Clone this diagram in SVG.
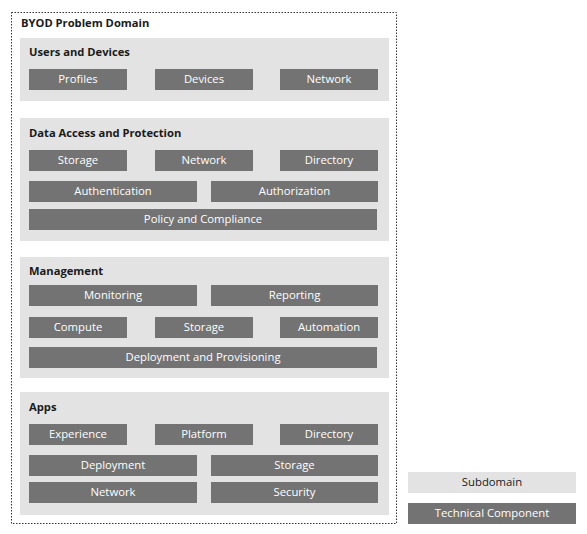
<svg xmlns="http://www.w3.org/2000/svg" width="587" height="534" viewBox="0 0 587 534">
<style>
.bg{fill:#ffffff}
.outer{fill:none;stroke:#333333;stroke-width:1;stroke-dasharray:1.5 1.5}
.sub{fill:#e3e3e3}
.comp{fill:#737373}
.t{font-family:"Open Sans","Noto Sans","DejaVu Sans",sans-serif;font-size:11.3px;fill:#ffffff;text-anchor:middle}
.ts{font-family:"Open Sans","Noto Sans","DejaVu Sans",sans-serif;font-size:11.3px;fill:#1a1a1a;text-anchor:middle}
.h{font-family:"Open Sans","Noto Sans","DejaVu Sans",sans-serif;font-size:11.2px;font-weight:bold;fill:#1a1a1a}
</style>
<rect class="bg" x="0" y="0" width="587" height="534"/>
<g id="byod-domain">
<rect class="outer" x="11.5" y="12.5" width="385" height="511"/>
<text class="h" x="21" y="27">BYOD Problem Domain</text>
</g>
<g id="users-and-devices">
<rect class="sub" x="20" y="38" width="369" height="63"/>
<text class="h" x="29" y="56">Users and Devices</text>
<rect class="comp" x="29" y="69" width="98" height="21"/><text class="t" x="78" y="82.7">Profiles</text>
<rect class="comp" x="155" y="69" width="98" height="21"/><text class="t" x="204" y="82.7">Devices</text>
<rect class="comp" x="280" y="69" width="98" height="21"/><text class="t" x="329" y="82.7">Network</text>
</g>
<g id="data-access">
<rect class="sub" x="20" y="118" width="369" height="123"/>
<text class="h" x="29" y="137">Data Access and Protection</text>
<rect class="comp" x="29" y="150" width="98" height="21"/><text class="t" x="78" y="163.7">Storage</text>
<rect class="comp" x="155" y="150" width="98" height="21"/><text class="t" x="204" y="163.7">Network</text>
<rect class="comp" x="280" y="150" width="98" height="21"/><text class="t" x="329" y="163.7">Directory</text>
<rect class="comp" x="29" y="181" width="168" height="21"/><text class="t" x="113" y="194.7">Authentication</text>
<rect class="comp" x="211" y="181" width="167" height="21"/><text class="t" x="294.5" y="194.7">Authorization</text>
<rect class="comp" x="29" y="209" width="348" height="21"/><text class="t" x="203" y="222.7">Policy and Compliance</text>
</g>
<g id="management">
<rect class="sub" x="20" y="257" width="369" height="121"/>
<text class="h" x="29" y="275">Management</text>
<rect class="comp" x="29" y="285" width="168" height="21"/><text class="t" x="113" y="298.7">Monitoring</text>
<rect class="comp" x="211" y="285" width="167" height="21"/><text class="t" x="294.5" y="298.7">Reporting</text>
<rect class="comp" x="29" y="317" width="98" height="21"/><text class="t" x="78" y="330.7">Compute</text>
<rect class="comp" x="155" y="317" width="98" height="21"/><text class="t" x="204" y="330.7">Storage</text>
<rect class="comp" x="280" y="317" width="98" height="21"/><text class="t" x="329" y="330.7">Automation</text>
<rect class="comp" x="29" y="347" width="348" height="21"/><text class="t" x="203" y="360.7">Deployment and Provisioning</text>
</g>
<g id="apps">
<rect class="sub" x="20" y="392" width="369" height="123"/>
<text class="h" x="29" y="411">Apps</text>
<rect class="comp" x="29" y="424" width="98" height="21"/><text class="t" x="78" y="437.7">Experience</text>
<rect class="comp" x="155" y="424" width="98" height="21"/><text class="t" x="204" y="437.7">Platform</text>
<rect class="comp" x="280" y="424" width="98" height="21"/><text class="t" x="329" y="437.7">Directory</text>
<rect class="comp" x="29" y="455" width="168" height="21"/><text class="t" x="113" y="468.7">Deployment</text>
<rect class="comp" x="211" y="455" width="167" height="21"/><text class="t" x="294.5" y="468.7">Storage</text>
<rect class="comp" x="29" y="482" width="168" height="21"/><text class="t" x="113" y="495.7">Network</text>
<rect class="comp" x="211" y="482" width="167" height="21"/><text class="t" x="294.5" y="495.7">Security</text>
</g>
<g id="legend">
<rect class="sub" x="408" y="472" width="168" height="21"/><text class="ts" x="492" y="485.7">Subdomain</text>
<rect class="comp" x="408" y="503" width="168" height="21"/><text class="t" x="492" y="516.7">Technical Component</text>
</g>
<g id="connectors"></g>
</svg>
